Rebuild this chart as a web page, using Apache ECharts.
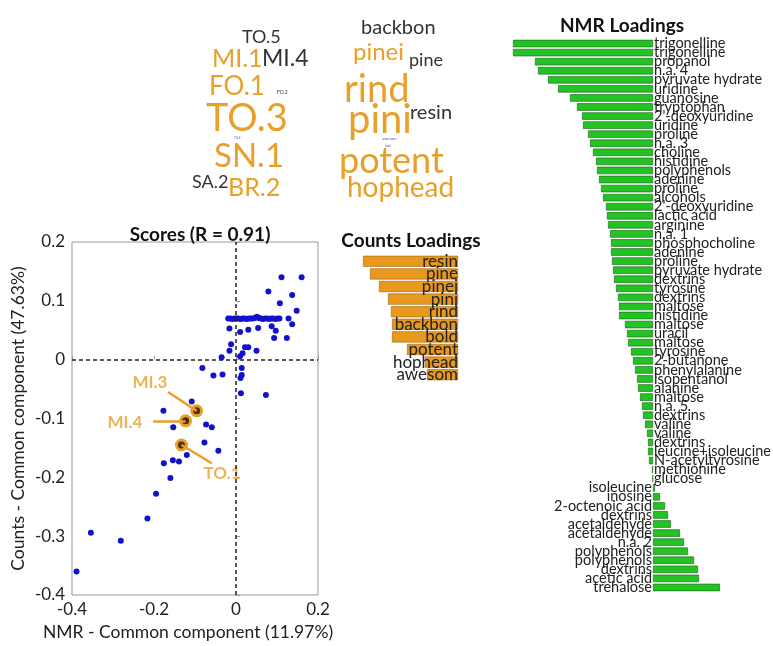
<!DOCTYPE html>
<html>
<head>
<meta charset="utf-8">
<script src="https://cdn.jsdelivr.net/npm/echarts@6/dist/echarts.min.js"></script>
<style>
html,body{margin:0;background:#fff}
#main{width:773px;height:646px}
</style>
</head>
<body>
<div id="main"></div>
<script>
// scores: NMR common component (x) vs Counts common component (y)
var scorePoints = [
  [0.160,0.140],[0.111,0.140],[0.079,0.116],[0.137,0.110],[0.107,0.096],[0.148,0.083],
  [-0.019,0.070],[-0.014,0.070],[-0.009,0.069],[-0.004,0.070],[0.001,0.070],[0.006,0.070],
  [0.011,0.069],[0.016,0.070],[0.021,0.070],[0.026,0.069],[0.031,0.070],[0.036,0.070],
  [0.041,0.070],[0.046,0.071],[0.051,0.073],[0.056,0.071],[0.061,0.070],[0.066,0.069],
  [0.071,0.070],[0.076,0.070],[0.081,0.069],[0.086,0.070],[0.091,0.070],[0.096,0.069],
  [0.101,0.070],[0.106,0.070],[0.128,0.070],
  [0.137,0.060],[0.124,0.037],[0.093,0.037],[0.097,0.049],[0.087,0.057],[0.054,0.054],
  [0.030,0.051],[0.010,0.047],[-0.016,0.053],[-0.012,0.026],[-0.016,0.015],[0.022,0.021],
  [0.030,0.021],[0.016,0.011],[0.010,0.006],[0.050,0.015],[-0.035,0.004],[-0.082,-0.014],
  [-0.055,-0.027],[-0.033,-0.025],[0.014,-0.014],[0.014,-0.026],[0.011,-0.031],[0.012,-0.057],
  [0.073,-0.060],[-0.108,-0.071],[-0.177,-0.087],[-0.073,-0.110],[-0.059,-0.115],[-0.153,-0.115],
  [-0.077,-0.141],[-0.043,-0.155],[-0.120,-0.162],[-0.176,-0.176],[-0.154,-0.171],[-0.139,-0.173],
  [-0.160,-0.201],[-0.195,-0.228],[-0.216,-0.270],[-0.354,-0.294],[-0.281,-0.308],[-0.389,-0.360]
];
var markedNames = ['MI.3', 'MI.4', 'TO.1'];
var markedPoints = [[-0.096,-0.087],[-0.123,-0.104],[-0.133,-0.145]];
// where each callout text sits, and where its leader line starts
var calloutAt = [[-0.210,-0.038],[-0.271,-0.106],[-0.034,-0.194]];
var leaderFrom = [[-0.166,-0.055],[-0.202,-0.104],[-0.059,-0.176]];

// counts loadings
var countTerms = ['resin','pine','pinei','pini','rind','backbon','bold','potent','hophead','awesom'];
var countValues = [-0.95,-0.88,-0.79,-0.70,-0.67,-0.66,-0.66,-0.51,-0.33,-0.31];

// NMR loadings
var nmrNames = ['trigonelline','trigonelline','propanol','n.a. 4','pyruvate hydrate','uridine',
  'guanosine','tryptophan',"2'-deoxyuridine",'uridine','proline','n.a. 3','choline','histidine',
  'polyphenols','adenine','proline','alcohols',"2'-deoxyuridine",'lactic acid','arginine','n.a. 1',
  'phosphocholine','adenine','proline','pyruvate hydrate','dextrins','tyrosine','dextrins','maltose',
  'histidine','maltose','uracil','maltose','tyrosine','2-butanone','phenylalanine','isopentanol',
  'alanine','maltose','n.a. 5','dextrins','valine','valine','dextrins','leucine+isoleucine',
  'N-acetyltyrosine','methionine','glucose','isoleucine','inosine','2-octenoic acid','dextrins',
  'acetaldehyde','acetaldehyde','n.a. 2','polyphenols','polyphenols','dextrins','acetic acid','trehalose'];
var nmrValues = [-0.140,-0.140,-0.118,-0.115,-0.105,-0.095,-0.083,-0.076,-0.071,-0.070,-0.065,-0.063,
  -0.060,-0.057,-0.056,-0.054,-0.052,-0.050,-0.047,-0.046,-0.045,-0.043,-0.042,-0.042,-0.041,-0.040,
  -0.039,-0.037,-0.035,-0.034,-0.034,-0.028,-0.026,-0.025,-0.022,-0.020,-0.018,-0.016,-0.015,-0.013,
  -0.011,-0.010,-0.008,-0.006,-0.005,-0.005,-0.004,-0.001,-0.0005,0.002,0.007,0.012,0.015,0.018,
  0.027,0.031,0.035,0.041,0.045,0.046,0.067];

// word cloud
var cloudWords = ['TO.5','MI.1','MI.4','FO.1','FO.2','TO.3','TO.4','SN.1','SA.2','BR.2',
  'backbon','pinei','pine','rind','pini','resin','awesom','bold','potent','hophead'];

var ORANGE = '#E8A02A';
var FONT = 'Lato, "Open Sans", sans-serif';

// layout of the cloud: [left, middle y, font size, colour index]
var cloudLayout = [
  [242,37,18,1],[212,59,25,0],[262,59,23,1],[209,87,26,0],[277,92,5,1],[206,119,38,0],[234,138,3,2],
  [214,156,33,0],[192,182,18,1],[228,188,25,0],
  [361,28,20,1],[353,52,24,0],[409,60,18,1],[344,90,38,0],[348,120,40,0],[410,113,20,1],
  [382,139,4,2],[385,146,3,2],[339,161,36,0],[347,188,28,0]
];
var cloudColors = [ORANGE, '#333', '#5a5a9a'];
var cloudGraphics = cloudWords.map(function (w, i) {
  var l = cloudLayout[i];
  return {
    type: 'text', left: l[0], top: l[1] - l[2] * 0.5,
    style: { text: w, fontSize: l[2], fontFamily: FONT, fill: cloudColors[l[3]] }
  };
});

var myChart = echarts.init(document.getElementById('main'));

myChart.setOption({
  animation: false,
  textStyle: { fontFamily: FONT },
  title: [
    { text: 'Scores (R = 0.91)', left: 195, top: 220, textAlign: 'center',
      textStyle: { fontSize: 19, fontWeight: 'bold', color: '#111' } },
    { text: 'Counts Loadings', left: 406, top: 226, textAlign: 'center',
      textStyle: { fontSize: 19, fontWeight: 'bold', color: '#111' } },
    { text: 'NMR Loadings', left: 617, top: 11, textAlign: 'center',
      textStyle: { fontSize: 19, fontWeight: 'bold', color: '#111' } }
  ],
  graphic: cloudGraphics,
  grid: [
    { left: 72, top: 242, width: 246, height: 353, show: true, borderColor: '#999', borderWidth: 1 },
    { left: 358, top: 255, width: 100, height: 126 },
    { left: 513, top: 39, width: 210, height: 553 }
  ],
  xAxis: [
    { gridIndex: 0, type: 'value', min: -0.4, max: 0.2, interval: 0.2,
      name: 'NMR - Common component (11.97%)', nameLocation: 'middle', nameGap: 28,
      nameTextStyle: { fontSize: 17.5, color: '#222', padding: [0, 14, 0, 0] },
      axisLine: { show: false }, splitLine: { show: false },
      axisTick: { inside: true, length: 4, lineStyle: { color: '#999' } },
      axisLabel: { fontSize: 17, color: '#222', margin: 6 } },
    { gridIndex: 1, type: 'value', min: -1, max: 0, show: false },
    { gridIndex: 2, type: 'value', min: -0.14, max: 0.07, show: false }
  ],
  yAxis: [
    { gridIndex: 0, type: 'value', min: -0.4, max: 0.2, interval: 0.1,
      name: 'Counts - Common component (47.63%)', nameLocation: 'middle', nameGap: 45,
      nameTextStyle: { fontSize: 17.5, color: '#222' },
      axisLine: { show: false }, splitLine: { show: false },
      axisTick: { inside: true, length: 4, lineStyle: { color: '#999' } },
      axisLabel: { fontSize: 17, color: '#222', margin: 7 } },
    { gridIndex: 1, type: 'category', data: countTerms, inverse: true, show: false },
    { gridIndex: 2, type: 'category', data: nmrNames, inverse: true, show: false }
  ],
  series: [
    {
      type: 'scatter', xAxisIndex: 0, yAxisIndex: 0, data: scorePoints,
      symbolSize: 6, itemStyle: { color: '#1212CC', opacity: 1 },
      markLine: {
        silent: true, symbol: 'none', label: { show: false },
        lineStyle: { type: [4, 3], color: '#222', width: 1.5 },
        data: [{ xAxis: 0 }, { yAxis: 0 }]
      }
    },
    {
      type: 'scatter', xAxisIndex: 0, yAxisIndex: 0, data: [], symbolSize: 0,
      markLine: {
        silent: true, symbol: 'none', label: { show: false },
        lineStyle: { type: 'solid', color: ORANGE, width: 2.5 },
        data: leaderFrom.map(function (p, i) {
          return [{ coord: p }, { coord: markedPoints[i] }];
        })
      }
    },
    {
      type: 'scatter', xAxisIndex: 0, yAxisIndex: 0, data: markedPoints,
      symbolSize: 10, itemStyle: { color: '#4a2f10', borderColor: ORANGE, borderWidth: 3, opacity: 1 }
    },
    {
      type: 'scatter', xAxisIndex: 0, yAxisIndex: 0, symbolSize: 0,
      data: calloutAt.map(function (p, i) { return { value: p, name: markedNames[i] }; }),
      label: { show: true, position: 'inside', formatter: '{b}', color: ORANGE,
        fontSize: 17, fontWeight: 'bold' }
    },
    {
      type: 'bar', xAxisIndex: 1, yAxisIndex: 1, data: countValues,
      barCategoryGap: '12%',
      itemStyle: { color: '#E8981C', borderColor: '#9a6410', borderWidth: 0.6 },
      label: { show: true, position: 'insideRight', distance: 0,
        formatter: function (p) { return countTerms[p.dataIndex]; },
        fontSize: 17, color: '#222', lineHeight: 12 }
    },
    {
      type: 'bar', xAxisIndex: 2, yAxisIndex: 2,
      // positive loadings carry their names on the left of the zero line
      data: nmrValues.map(function (v) {
        return v > 0 ? { value: v, label: { position: 'left' } } : v;
      }),
      barCategoryGap: '18%',
      itemStyle: { color: '#22C322', borderColor: '#1d5e1d', borderWidth: 0.6 },
      label: { show: true, distance: 1, fontSize: 14.5, color: '#222', lineHeight: 10,
        position: 'right',
        formatter: function (p) { return nmrNames[p.dataIndex]; } }
    }
  ]
});
</script>
</body>
</html>
